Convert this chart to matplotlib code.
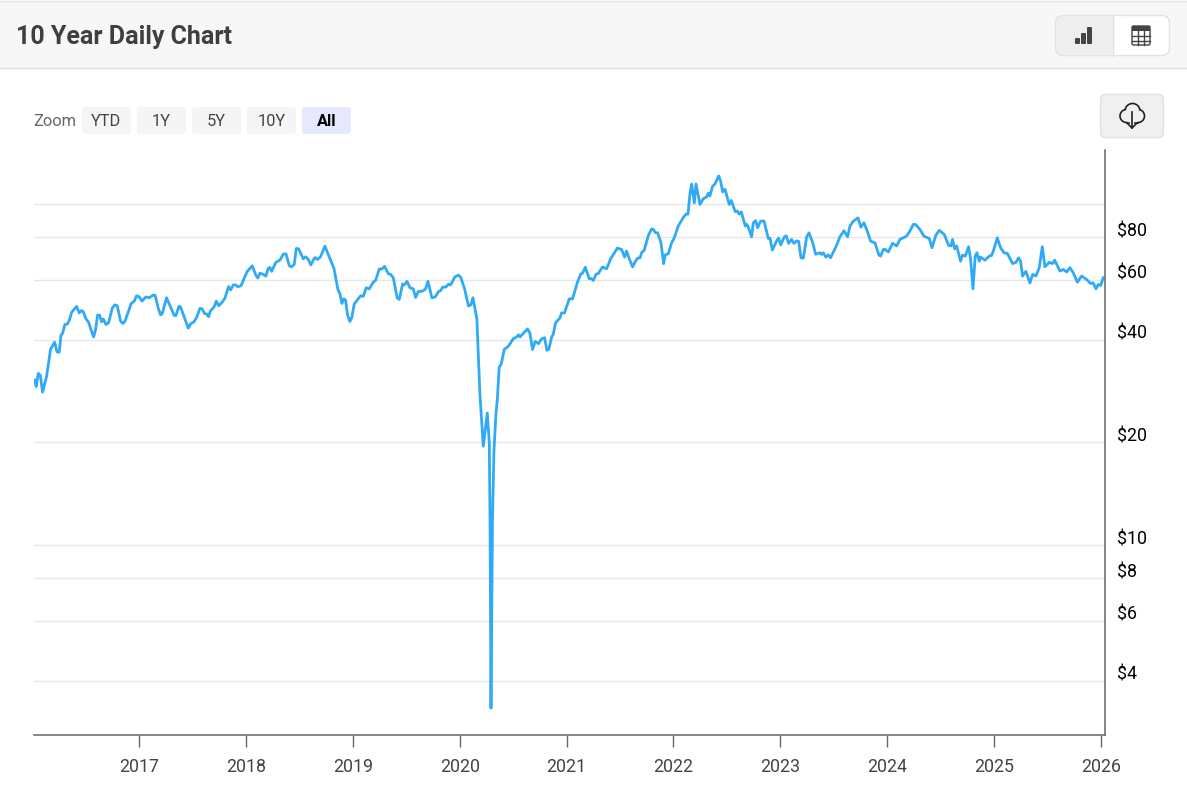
import matplotlib
matplotlib.use("Agg")
import matplotlib.pyplot as plt
import numpy as np
from matplotlib.patches import FancyBboxPatch, Rectangle
from matplotlib.transforms import ScaledTranslation

plt.rcParams['font.family'] = ['Roboto', 'DejaVu Sans']

#weekly price (decimal year, dollars)
years = [2016.024, 2016.039, 2016.058, 2016.077, 2016.098, 2016.136, 2016.173, 2016.211, 2016.233, 2016.254,
         2016.270, 2016.286, 2016.307, 2016.329, 2016.348, 2016.370, 2016.417, 2016.441, 2016.463, 2016.479,
         2016.504, 2016.529, 2016.551, 2016.576, 2016.594, 2016.613, 2016.632, 2016.650, 2016.666, 2016.691,
         2016.716, 2016.750, 2016.775, 2016.797, 2016.828, 2016.850, 2016.869, 2016.903, 2016.928, 2016.956,
         2016.978, 2017.000, 2017.028, 2017.065, 2017.096, 2017.134, 2017.152, 2017.180, 2017.202, 2017.218,
         2017.258, 2017.290, 2017.330, 2017.346, 2017.374, 2017.389, 2017.421, 2017.461, 2017.483, 2017.514,
         2017.539, 2017.570, 2017.589, 2017.614, 2017.633, 2017.651, 2017.667, 2017.701, 2017.723, 2017.745,
         2017.773, 2017.804, 2017.838, 2017.857, 2017.882, 2017.901, 2017.926, 2017.954, 2018.013, 2018.060,
         2018.094, 2018.113, 2018.131, 2018.153, 2018.188, 2018.209, 2018.225, 2018.241, 2018.281, 2018.318,
         2018.350, 2018.375, 2018.406, 2018.425, 2018.453, 2018.471, 2018.493, 2018.537, 2018.559, 2018.584,
         2018.608, 2018.637, 2018.649, 2018.671, 2018.699, 2018.739, 2018.771, 2018.824, 2018.861, 2018.880,
         2018.898, 2018.917, 2018.933, 2018.951, 2018.973, 2018.992, 2019.014, 2019.051, 2019.073, 2019.098,
         2019.126, 2019.154, 2019.192, 2019.214, 2019.248, 2019.273, 2019.298, 2019.332, 2019.354, 2019.379,
         2019.416, 2019.435, 2019.466, 2019.482, 2019.507, 2019.535, 2019.566, 2019.588, 2019.613, 2019.653,
         2019.681, 2019.703, 2019.740, 2019.772, 2019.803, 2019.822, 2019.840, 2019.871, 2019.896, 2019.915,
         2019.956, 2019.990, 2020.012, 2020.046, 2020.083, 2020.105, 2020.124, 2020.161, 2020.189, 2020.221,
         2020.258, 2020.277, 2020.284, 2020.293, 2020.307, 2020.321, 2020.340, 2020.352, 2020.370, 2020.389, 2020.417,
         2020.455, 2020.501, 2020.532, 2020.551, 2020.564, 2020.635, 2020.657, 2020.682, 2020.707, 2020.738,
         2020.766, 2020.794, 2020.816, 2020.835, 2020.860, 2020.875, 2020.897, 2020.938, 2020.953, 2020.981,
         2021.025, 2021.056, 2021.100, 2021.131, 2021.150, 2021.175, 2021.212, 2021.231, 2021.250, 2021.275,
         2021.300, 2021.312, 2021.337, 2021.375, 2021.412, 2021.475, 2021.515, 2021.543, 2021.562, 2021.587,
         2021.618, 2021.640, 2021.665, 2021.687, 2021.702, 2021.727, 2021.765, 2021.796, 2021.811, 2021.833,
         2021.852, 2021.883, 2021.908, 2021.924, 2021.952, 2021.983, 2022.005, 2022.045, 2022.092, 2022.117,
         2022.136, 2022.154, 2022.170, 2022.195, 2022.211, 2022.248, 2022.279, 2022.310, 2022.326, 2022.341,
         2022.366, 2022.388, 2022.423, 2022.441, 2022.460, 2022.482, 2022.522, 2022.541, 2022.578, 2022.597,
         2022.616, 2022.635, 2022.672, 2022.684, 2022.700, 2022.731, 2022.747, 2022.769, 2022.787, 2022.815,
         2022.847, 2022.887, 2022.903, 2022.925, 2022.965, 2022.984, 2023.003, 2023.037, 2023.056, 2023.077,
         2023.105, 2023.127, 2023.152, 2023.171, 2023.193, 2023.215, 2023.246, 2023.268, 2023.302, 2023.330,
         2023.370, 2023.386, 2023.402, 2023.426, 2023.448, 2023.470, 2023.526, 2023.557, 2023.595, 2023.629,
         2023.651, 2023.682, 2023.726, 2023.754, 2023.782, 2023.813, 2023.844, 2023.885, 2023.922, 2023.938,
         2023.963, 2023.978, 2024.010, 2024.050, 2024.088, 2024.119, 2024.181, 2024.212, 2024.243, 2024.265,
         2024.306, 2024.343, 2024.393, 2024.418, 2024.455, 2024.487, 2024.533, 2024.574, 2024.596, 2024.611,
         2024.630, 2024.649, 2024.686, 2024.705, 2024.730, 2024.761, 2024.780, 2024.802, 2024.823, 2024.839,
         2024.861, 2024.873, 2024.914, 2024.954, 2024.976, 2024.998, 2025.029, 2025.060, 2025.092, 2025.123,
         2025.173, 2025.204, 2025.229, 2025.247, 2025.266, 2025.297, 2025.335, 2025.360, 2025.391, 2025.422,
         2025.450, 2025.475, 2025.516, 2025.547, 2025.566, 2025.615, 2025.647, 2025.678, 2025.709, 2025.740,
         2025.778, 2025.818, 2025.865, 2025.902, 2025.927, 2025.952, 2025.974, 2025.996, 2026.021]

prices = [30.5, 29.2, 31.9, 31.5, 28.1, 31.3, 37.6, 39.4, 36.9, 36.8,
          41.2, 41.9, 44.4, 44.5, 45.6, 48.2, 50.2, 48.0, 48.8, 48.4,
          46.1, 45.1, 42.9, 40.8, 42.9, 47.3, 47.3, 45.2, 46.1, 44.4,
          44.9, 49.6, 50.7, 50.4, 45.4, 44.7, 45.4, 48.6, 51.2, 52.0,
          53.9, 53.6, 52.0, 53.5, 53.2, 54.2, 54.0, 49.6, 47.4, 47.8,
          53.2, 50.4, 47.2, 47.2, 50.2, 50.0, 46.9, 43.3, 44.6, 45.2,
          46.5, 49.5, 49.4, 47.8, 47.7, 46.8, 48.6, 49.9, 52.0, 50.4,
          51.4, 53.0, 57.4, 56.1, 58.0, 58.1, 57.3, 57.7, 63.6, 66.0,
          61.9, 60.8, 62.8, 62.5, 61.6, 64.9, 65.3, 63.6, 67.6, 68.6,
          71.4, 71.6, 66.1, 65.5, 66.7, 74.2, 74.1, 69.2, 70.2, 68.9,
          66.4, 69.2, 69.8, 68.9, 70.2, 75.4, 71.3, 64.9, 56.2, 54.7,
          51.2, 52.8, 52.3, 47.4, 45.3, 46.7, 51.0, 52.8, 53.9, 53.7,
          56.9, 56.5, 59.1, 59.8, 64.6, 64.6, 65.8, 62.6, 62.3, 60.9,
          53.1, 52.6, 58.4, 58.0, 59.4, 56.9, 56.5, 53.3, 55.5, 55.6,
          56.5, 59.5, 53.2, 53.5, 55.5, 55.8, 57.1, 57.2, 58.3, 58.0,
          61.3, 62.0, 60.9, 56.5, 50.3, 50.7, 53.2, 46.1, 27.9, 19.5,
          24.4, 20.0, 11.8, 3.32, 11.8, 19.0, 24.4, 26.7, 33.3, 34.0, 37.5,
          38.3, 40.3, 40.8, 41.4, 40.8, 43.1, 41.9, 37.5, 39.6, 39.0,
          40.3, 40.6, 37.3, 37.6, 40.8, 41.5, 44.9, 46.4, 48.0, 48.0,
          52.8, 52.8, 58.8, 62.3, 62.8, 65.4, 60.5, 60.6, 59.8, 62.3,
          62.8, 63.8, 65.5, 64.7, 69.2, 74.4, 73.7, 70.0, 72.9, 69.2,
          65.5, 67.7, 69.5, 69.7, 72.1, 73.4, 81.0, 84.7, 84.5, 82.5,
          82.5, 77.2, 67.0, 71.1, 71.6, 77.2, 79.4, 86.4, 91.5, 93.6,
          93.6, 107.1, 114.7, 101.0, 114.7, 99.9, 103.9, 105.1, 107.8, 105.8,
          113.0, 114.7, 121.2, 117.1, 108.8, 110.8, 99.9, 102.7, 95.2, 95.6,
          93.6, 95.0, 86.4, 87.4, 85.8, 80.3, 88.3, 89.6, 85.4, 89.2,
          89.4, 79.4, 79.6, 73.4, 78.1, 79.6, 76.0, 80.3, 80.8, 76.8,
          78.9, 76.8, 78.1, 77.9, 69.7, 69.5, 80.3, 82.5, 77.2, 71.4,
          72.1, 71.3, 72.1, 70.0, 71.1, 69.7, 75.8, 80.3, 83.7, 80.3,
          86.4, 89.2, 91.3, 85.7, 88.3, 83.5, 78.0, 77.1, 71.0, 70.5,
          73.8, 73.8, 72.5, 76.9, 75.5, 78.9, 80.7, 83.5, 87.3, 87.3,
          84.4, 80.7, 79.4, 74.6, 81.2, 83.9, 81.6, 75.8, 75.5, 78.9,
          74.0, 75.5, 68.1, 71.0, 70.5, 75.1, 68.9, 56.5, 70.5, 72.1,
          68.1, 70.0, 68.6, 70.5, 70.8, 73.8, 79.8, 74.6, 72.1, 71.8,
          67.0, 67.6, 69.7, 68.1, 61.6, 63.6, 58.8, 62.3, 61.6, 65.2,
          75.1, 65.6, 67.6, 67.0, 68.6, 63.7, 64.4, 63.3, 65.2, 63.0,
          59.1, 61.6, 60.2, 58.6, 58.8, 56.5, 58.2, 57.8, 60.9]

year_ticks = [2017, 2018, 2019, 2020, 2021, 2022, 2023, 2024, 2025, 2026]
price_ticks = [4, 6, 8, 10, 20, 40, 60, 80, 100]
price_labels = ["$4", "$6", "$8", "$10", "$20", "$40", "$60", "$80", ""]
zoom_labels = ["YTD", "1Y", "5Y", "10Y", "All"]

W, H = 1187, 790
fig = plt.figure(figsize=(W / 100, H / 100), dpi=100, facecolor="white")

#page furniture is drawn on a full-figure axes in pixel units
ui = fig.add_axes([0, 0, 1, 1])
ui.set_xlim(0, W)
ui.set_ylim(H, 0)
ui.axis("off")


def box(x0, y0, x1, y1, fc, ec="none", r=3, z=2):
    ui.add_patch(FancyBboxPatch((x0 + r, y0 + r), x1 - x0 - 2 * r, y1 - y0 - 2 * r,
                                boxstyle="round,pad=%s,rounding_size=%s" % (r, r),
                                fc=fc, ec=ec, lw=1, zorder=z))


def lobe(cx, cy, r, a0, a1):
    t = np.radians(np.linspace(a0, a1, 30))
    ui.plot(cx + r * np.cos(t), cy - r * np.sin(t), color="#222222", lw=1.2, zorder=4)


#header
ui.add_patch(Rectangle((0, 1), W, 67, fc="#f7f7f7", ec="none"))
ui.plot([0, W], [1, 1], color="#e2e2e2", lw=1)
ui.plot([0, W], [68, 68], color="#dddddd", lw=1)
ui.text(16, 37, "10 Year Daily Chart", fontsize=18, fontweight="bold", color="#3f3f3f", va="center")

#chart/table switch
box(1055.5, 15.5, 1169.5, 55.5, "white", "#e2e2e2", r=8)
box(1056, 16, 1118, 55, "#eeeeee", "none", r=8, z=2.1)
ui.add_patch(Rectangle((1106, 16), 7, 39, fc="#eeeeee", ec="none", zorder=2.2))
ui.add_patch(Rectangle((1113, 16), 8, 39, fc="white", ec="none", zorder=2.2))
ui.plot([1113, 1113], [15.5, 55.5], color="#e2e2e2", lw=1, zorder=2.3)
for bx, top in [(1075, 38), (1081, 33), (1087, 27)]:
    box(bx, top, bx + 5, 44, "#444444", r=1, z=3)
box(1132, 26, 1150, 45, "white", "#444444", r=1.5, z=3)
ui.add_patch(Rectangle((1132, 26), 18, 5, fc="#444444", ec="none", zorder=4))
for gx in [1138, 1144]:
    ui.plot([gx, gx], [31, 45], color="#444444", lw=1, zorder=4)
for gy in [36, 40.5]:
    ui.plot([1132, 1150], [gy, gy], color="#444444", lw=1, zorder=4)

#zoom buttons
ui.text(33.5, 122, "Zoom", fontsize=11.8, color="#666666", va="center")
for i, lab in enumerate(zoom_labels):
    x0 = 82 + i * 55
    active = lab == "All"
    box(x0, 107, x0 + 49, 134, "#e6e9fb" if active else "#f5f5f5")
    ui.text(x0 + 24.5, 122, lab, fontsize=11.8, ha="center", va="center", zorder=3,
            color="black" if active else "#444444", fontweight="bold" if active else "normal")

#download button
box(1100.5, 94.5, 1163.5, 137.5, "#f0f0f0", "#e2e2e2", r=5)
lobe(1126.5, 116, 6.5, 100, 270)
lobe(1132.5, 111, 7.5, 165, 15)
lobe(1138, 116, 6.5, 75, -90)
ui.plot([1126.5, 1129], [122.5, 122.5], color="#222222", lw=1.2, zorder=4)
ui.plot([1135, 1138], [122.5, 122.5], color="#222222", lw=1.2, zorder=4)
ui.plot([1132, 1132], [112, 128], color="#222222", lw=1.2, zorder=4)
ui.plot([1127.5, 1132, 1136.5], [123.5, 128, 123.5], color="#222222", lw=1.2, zorder=4)

#price chart, log scale with the price axis on the right
ax = fig.add_axes([34 / W, 1 - 735 / H, (1105 - 34) / W, (735 - 150) / H])
ax.patch.set_alpha(0)
ax.plot(years, prices, color="#30aaf7", lw=2.0, solid_joinstyle="round", clip_on=True)
ax.set_yscale("log")
ax.set_xlim(2016.018, 2026.037)
ax.set_ylim(2.77, 144.4)

ax.set_xticks(year_ticks)
ax.set_xticklabels([str(y) for y in year_ticks])
ax.yaxis.tick_right()
ax.set_yticks(price_ticks)
ax.set_yticklabels(price_labels)
ax.yaxis.set_minor_locator(matplotlib.ticker.NullLocator())
ax.grid(axis="y", color="#e6e6e6", lw=1)
ax.set_axisbelow(True)
ax.tick_params(axis="x", length=8.5, width=1, color="#666666", labelcolor="#444444", labelsize=12.8, pad=8)
ax.tick_params(axis="y", length=0, labelcolor="black", labelsize=12.8, pad=8.7)
#price labels sit just above their gridlines
nudge = ScaledTranslation(0, -3 / 100, fig.dpi_scale_trans)
for lab in ax.get_yticklabels():
    lab.set_va("bottom")
    lab.set_transform(lab.get_transform() + nudge)

for side in ["top", "left"]:
    ax.spines[side].set_visible(False)
for side in ["right", "bottom"]:
    ax.spines[side].set_color("#666666")
    ax.spines[side].set_linewidth(1.1)

plt.savefig("out.png", dpi=100)
